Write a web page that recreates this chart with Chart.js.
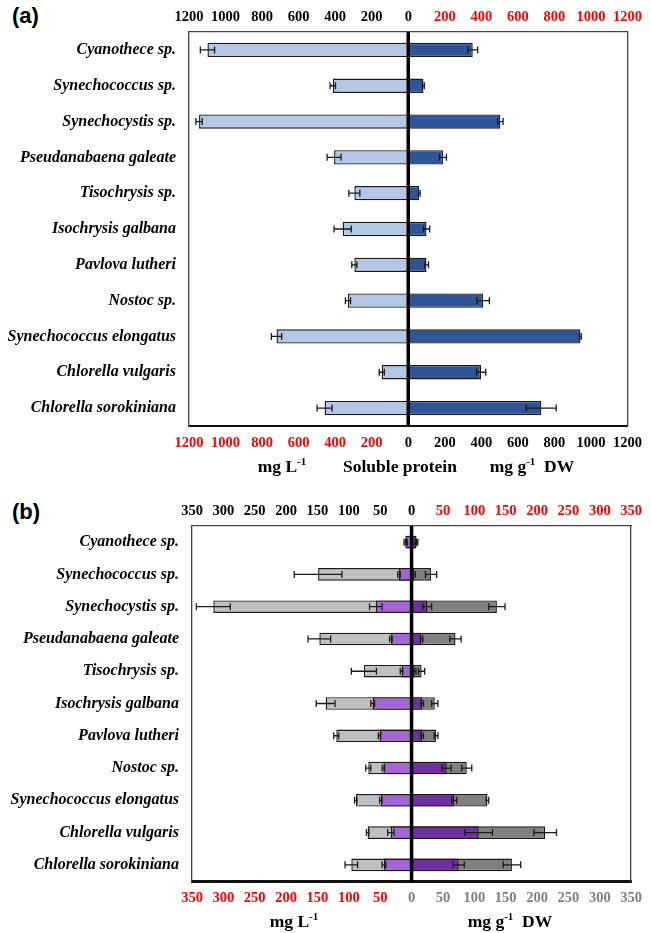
<!DOCTYPE html>
<html>
<head>
<meta charset="utf-8">
<script src="https://cdn.jsdelivr.net/npm/chart.js@4.4.1/dist/chart.umd.min.js"></script>
<style>
  body { margin: 0; background: #fff; width: 651px; height: 933px; position: relative; overflow: hidden; }
  canvas { position: absolute; left: 0; }
  #chartA { top: 0; }
  #chartB { top: 480px; }
  .ttl { position: absolute; font: bold 17.5px "Liberation Serif", serif; color: #000; transform: translate(-50%, -50%); white-space: nowrap; }
  .ttl sup { font-size: 11px; }
  .pnl { position: absolute; font: bold 22px "Liberation Sans", Arial, sans-serif; color: #000; }
</style>
</head>
<body>
<div class="pnl" style="left:12px;top:3px">(a)</div>
<div class="pnl" style="left:12px;top:499px">(b)</div>
<canvas id="chartA" width="651" height="480"></canvas>
<canvas id="chartB" width="651" height="453"></canvas>
<div class="ttl" style="left:282px;top:466px">mg L<sup>-1</sup></div>
<div class="ttl" style="left:400px;top:466px">Soluble protein</div>
<div class="ttl" style="left:532px;top:466px">mg g<sup>-1</sup>&nbsp; DW</div>
<div class="ttl" style="left:294px;top:921px">mg L<sup>-1</sup></div>
<div class="ttl" style="left:510px;top:921px">mg g<sup>-1</sup>&nbsp; DW</div>
<script>
// species (same order in both panels)
var species = ['Cyanothece sp.', 'Synechococcus sp.', 'Synechocystis sp.', 'Pseudanabaena galeate',
  'Tisochrysis sp.', 'Isochrysis galbana', 'Pavlova lutheri', 'Nostoc sp.',
  'Synechococcus elongatus', 'Chlorella vulgaris', 'Chlorella sorokiniana'];

// (a) soluble protein
var proteinL = [1099, 413, 1145, 406, 295, 359, 295, 330, 721, 145, 458];
var proteinLErr = [39, 15, 17, 38, 30, 47, 14, 14, 28, 14, 41];
var proteinDW = [353, 83, 504, 190, 60, 100, 100, 410, 942, 399, 728];
var proteinDWErr = [27, 5, 15, 19, 5, 17, 11, 34, 5, 25, 82];

// (b) left side mg L-1 : grey bar and purple bar
var greyL = [8, 149, 316, 147, 76, 137, 120, 69, 89, 70, 96];
var greyLErr = [1, 38, 27, 18, 20, 15, 4, 4, 2, 2, 10];
var purpleL = [10, 20, 57, 33, 16, 62, 51, 45, 49, 33, 44];
var purpleLErr = [2, 2, 10, 2, 2, 3, 2, 2, 2, 5, 3];
// (b) right side mg g-1 DW : dark purple bar and grey bar
var purpleDW = [8, 4, 25, 16, 5, 17, 17, 56, 68, 107, 75];
var purpleDWErr = [2, 2, 7, 2, 2, 2, 2, 7, 4, 22, 9];
var greyDW = [7, 31, 136, 70, 16, 37, 39, 88, 121, 213, 160];
var greyDWErr = [1, 9, 13, 9, 5, 5, 3, 8, 2, 18, 14];

var ticksA = 200, maxA = 1200;
var ticksB = 50, maxB = 350;

var neg = function (arr) { return arr.map(function (v) { return -v; }); };

// zero line + error bars, drawn over the bars
var errPlugin = {
  id: 'errbars',
  afterDatasetsDraw: function (chart) {
    var ctx = chart.ctx, xs = chart.scales.x, area = chart.chartArea;
    var x0 = xs.getPixelForValue(0);
    ctx.save();
    ctx.strokeStyle = '#000';
    ctx.lineWidth = 3.5;
    ctx.beginPath();
    ctx.moveTo(x0, area.top);
    ctx.lineTo(x0, area.bottom);
    ctx.stroke();
    ctx.strokeStyle = '#1a1a1a';
    ctx.lineWidth = 1.3;
    chart.data.datasets.forEach(function (ds, i) {
      if (!ds.errors) return;
      chart.getDatasetMeta(i).data.forEach(function (bar, j) {
        var v = ds.data[j], e = ds.errors[j];
        var a = xs.getPixelForValue(v - e), b = xs.getPixelForValue(v + e), y = bar.y;
        ctx.beginPath();
        ctx.moveTo(a, y); ctx.lineTo(b, y);
        ctx.moveTo(a, y - 3.5); ctx.lineTo(a, y + 3.5);
        ctx.moveTo(b, y - 3.5); ctx.lineTo(b, y + 3.5);
        ctx.stroke();
      });
    });
    ctx.restore();
  }
};

function makeChart(id, datasets, box, step, max, topColor, botColor, botBorder) {
  var tickFont = { family: 'Liberation Serif', size: 14.5, weight: 'bold' };
  return new Chart(document.getElementById(id), {
    type: 'bar',
    data: { labels: species, datasets: datasets },
    options: {
      indexAxis: 'y',
      responsive: false,
      animation: false,
      devicePixelRatio: 1,
      layout: { padding: { left: 0, right: 651 - box.right, top: 0, bottom: 0 } },
      plugins: { legend: { display: false }, tooltip: { enabled: false } },
      scales: {
        x: {
          position: 'bottom', min: -max, max: max,
          afterFit: function (s) { s.height = box.h - box.bottom; },
          grid: { display: false, drawTicks: false },
          border: { display: true, color: '#111', width: botBorder },
          ticks: {
            stepSize: step, autoSkip: false, maxRotation: 0, padding: 9, font: tickFont,
            color: botColor, callback: function (v) { return Math.abs(v); }
          }
        },
        x2: {
          position: 'top', min: -max, max: max,
          afterFit: function (s) { s.height = box.top; },
          grid: { display: false, drawTicks: false },
          border: { display: true, color: '#444', width: 1.3 },
          ticks: {
            stepSize: step, autoSkip: false, maxRotation: 0, padding: 6, font: tickFont,
            color: topColor, callback: function (v) { return Math.abs(v); }
          }
        },
        y: {
          position: 'left',
          afterFit: function (s) { s.width = box.left; },
          grid: { display: false, drawTicks: false },
          border: { display: true, color: '#444', width: 1.3 },
          ticks: { padding: 13, color: '#000', font: { family: 'Liberation Serif', size: 16, weight: 'bold', style: 'italic' } }
        },
        yr: {
          position: 'right',
          afterFit: function (s) { s.width = 0; },
          grid: { display: false, drawTicks: false },
          border: { display: true, color: '#444', width: 1.3 },
          ticks: { display: false }
        }
      }
    },
    plugins: [errPlugin]
  });
}

var barA = { grouped: false, barPercentage: 0.4, categoryPercentage: 1, borderColor: '#1a1a1a', borderWidth: 1.4, borderSkipped: false };
makeChart('chartA', [
  Object.assign({ data: neg(proteinL), errors: proteinLErr, backgroundColor: '#b4c7e7' }, barA),
  Object.assign({ data: proteinDW, errors: proteinDWErr, backgroundColor: '#2f5597' }, barA)
], { left: 189, right: 631, top: 32, bottom: 426, h: 480 }, ticksA, maxA,
  function (c) { return c.tick && c.tick.value > 0 ? '#ff0000' : '#000'; },
  function (c) { return c.tick && c.tick.value < 0 ? '#ff0000' : '#000'; }, 2);

var barB = { grouped: false, barPercentage: 0.39, categoryPercentage: 1, borderColor: '#1a1a1a', borderWidth: 1.4, borderSkipped: false };
makeChart('chartB', [
  Object.assign({ data: neg(greyL), errors: greyLErr, backgroundColor: '#c0c0c0', order: 2 }, barB),
  Object.assign({ data: neg(purpleL), errors: purpleLErr, backgroundColor: '#a366d4', order: 1 }, barB),
  Object.assign({ data: greyDW, errors: greyDWErr, backgroundColor: '#808080', order: 2 }, barB),
  Object.assign({ data: purpleDW, errors: purpleDWErr, backgroundColor: '#7030a0', order: 1 }, barB)
], { left: 192, right: 635, top: 46, bottom: 401, h: 453 }, ticksB, maxB,
  function (c) { return c.tick && c.tick.value > 0 ? '#ff0000' : '#000'; },
  function (c) { return c.tick && c.tick.value < 0 ? '#ff0000' : '#7f7f7f'; }, 3);
</script>
</body>
</html>
